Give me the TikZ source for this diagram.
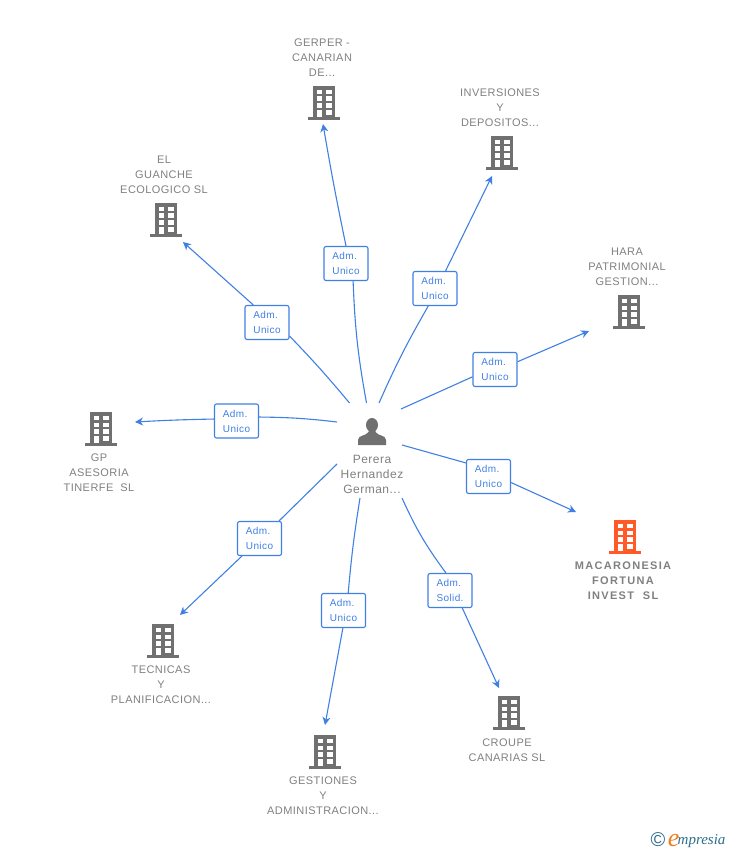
\documentclass[tikz,border=0pt]{standalone}
\usepackage{fontspec}
\setmainfont{Liberation Sans}[LetterSpace=4]
\newfontfamily\logofont{Liberation Serif}
\usetikzlibrary{positioning,arrows.meta}

\definecolor{linkblue}{RGB}{64,128,228}
\definecolor{icongray}{RGB}{112,112,112}
\definecolor{iconorange}{RGB}{255,90,40}
\definecolor{textgray}{RGB}{128,128,128}
\definecolor{logoteal}{RGB}{45,110,140}
\definecolor{logoorange}{RGB}{240,125,30}

\tikzset{
  link/.style={draw=linkblue, line width=1.1pt},
  linkto/.style={link, -{Stealth[length=8pt,width=8pt,inset=2.5pt]}},
  role/.style={draw=linkblue, fill=white, line width=1.1pt, rounded corners=2pt,
    minimum width=44pt, minimum height=34pt, inner sep=0pt, align=left,
    text=linkblue, font=\fontsize{10}{15}\selectfont},
  caption/.style={inner sep=0pt, align=center, text=textgray, xshift=-2pt,
    font=\fontsize{11}{15}\selectfont},
  building/.style={minimum width=32pt, minimum height=34pt, inner sep=0pt,
    path picture={
      \begin{scope}[shift={(path picture bounding box.center)}]
        \fill[#1] (-11,-17) rectangle (11,14);
        \fill[#1] (-16,14) rectangle (16,17);
        \foreach \col in {-7.5,2} \foreach \row in {-13.2,-6.5,0.2} {
          \fill[white] (\col,\row) rectangle ++(5.5,4.6);
        }
        \fill[white] (-7.5,7) rectangle (-2,14);
        \fill[white] (2,7) rectangle (7.5,11.6);
      \end{scope}
    }},
  person/.style={minimum width=30pt, minimum height=30pt, inner sep=0pt,
    path picture={
      \begin{scope}[shift={(path picture bounding box.center)}]
        \fill[icongray] (0,-7) ellipse (6 and 7);
        \fill[icongray] (-14,13) -- (-14,8) .. controls (-14,3) and (-6,4) .. (-3.5,0)
          -- (-3.5,-3) -- (3.5,-3) -- (3.5,0) .. controls (6,4) and (14,3) .. (14,8) -- (14,13) -- cycle;
      \end{scope}
    }},
}

\begin{document}
\begin{tikzpicture}[x=1pt, y=-1pt]
\useasboundingbox (0,0) rectangle (728,850);

% people and companies
\node [person] (perera) at (372,432) {};
\node [caption, below=8pt of perera, xshift=2pt, font=\fontsize{12}{15}\selectfont] (pereraname) {Perera\\Hernandez\\German...};

\node [building=icongray] (gerper) at (324,103) {};
\node [caption, above=9pt of gerper] (gerpername) {GERPER -\\CANARIAN\\DE...};
\node [building=icongray] (inversiones) at (502,153) {};
\node [caption, above=9pt of inversiones] (inversionesname) {INVERSIONES\\Y\\DEPOSITOS...};
\node [building=icongray] (guanche) at (166,220) {};
\node [caption, above=9pt of guanche] (guanchename) {EL\\GUANCHE\\ECOLOGICO SL};
\node [building=icongray] (hara) at (629,312) {};
\node [caption, above=9pt of hara] (haraname) {HARA\\PATRIMONIAL\\GESTION...};
\node [building=iconorange] (macaronesia) at (625,537) {};
\node [caption, below=7pt of macaronesia, font=\fontsize{11}{15}\selectfont\bfseries\addfontfeatures{LetterSpace=12}] (macaronesianame) {MACARONESIA\\FORTUNA\\INVEST\ \ SL};
\node [building=icongray] (gp) at (101,429) {};
\node [caption, below=7pt of gp] (gpname) {GP\\ASESORIA\\TINERFE\ \ SL};
\node [building=icongray] (tecnicas) at (163,641) {};
\node [caption, below=7pt of tecnicas] (tecnicasname) {TECNICAS\\Y\\PLANIFICACION...};
\node [building=icongray] (gestiones) at (325,752) {};
\node [caption, below=7pt of gestiones] (gestionesname) {GESTIONES\\Y\\ADMINISTRACION...};
\node [building=icongray] (croupe) at (509,713) {};
\node [caption, below=8pt of croupe] (croupename) {CROUPE\\CANARIAS SL};

% roles
\node [role] (rolegerper) at (346,263.5) {Adm.\\Unico};
\node [role] (roleinversiones) at (435,288.5) {Adm.\\Unico};
\node [role] (roleguanche) at (267,322.5) {Adm.\\Unico};
\node [role] (rolehara) at (495,369.5) {Adm.\\Unico};
\node [role] (rolemacaronesia) at (488.5,476.5) {Adm.\\Unico};
\node [role] (rolegp) at (236.5,421) {Adm.\\Unico};
\node [role] (roletecnicas) at (259.5,538.5) {Adm.\\Unico};
\node [role] (rolegestiones) at (343.5,610.5) {Adm.\\Unico};
\node [role] (rolecroupe) at (450,590.5) {Adm.\\Solid.};

% free ends of the links
\coordinate (fromgerper) at (366.5,403);
\coordinate (frominversiones) at (379,403);
\coordinate (fromguanche) at (349.5,403);
\coordinate (fromhara) at (401,409);
\coordinate (frommacaronesia) at (402,445);
\coordinate (fromgp) at (337,422);
\coordinate (fromtecnicas) at (337,464);
\coordinate (fromgestiones) at (360,498);
\coordinate (fromcroupe) at (402,498);
\coordinate (togerper) at (323,124);
\coordinate (toinversiones) at (492,176);
\coordinate (toguanche) at (183,242);
\coordinate (tohara) at (589,331);
\coordinate (tomacaronesia) at (576,512);
\coordinate (togp) at (135,422);
\coordinate (totecnicas) at (180,615);
\coordinate (togestiones) at (325,725);
\coordinate (tocroupe) at (499,688);

\draw[link] (fromgerper) to[bend left=4] (rolegerper.-68);
\draw[linkto] (rolegerper.north) to[bend left=1] (togerper);
\draw[link] (frominversiones) to[bend left=3] (roleinversiones.-111);
\draw[linkto] (roleinversiones.59) -- (toinversiones);
\draw[link] (fromguanche) to[bend right=2] (roleguanche.-31);
\draw[linkto] (roleguanche.128) -- (toguanche);
\draw[link] (fromhara) -- (rolehara.198);
\draw[linkto] (rolehara.19) -- (tohara);
\draw[link] (frommacaronesia) -- (rolemacaronesia.149);
\draw[linkto] (rolemacaronesia.-15) -- (tomacaronesia);
\draw[link] (fromgp) to[bend right=3] (rolegp.10);
\draw[linkto] (rolegp.175) to[bend right=1] (togp);
\draw[link] (fromtecnicas) -- (roletecnicas.42);
\draw[linkto] (roletecnicas.225) -- (totecnicas);
\draw[link] (fromgestiones) to[bend right=2] (rolegestiones.75);
\draw[linkto] (rolegestiones.268) -- (togestiones);
\draw[link] (fromcroupe) to[bend right=6] (rolecroupe.103);
\draw[linkto] (rolecroupe.-55) -- (tocroupe);

% logo
\node [inner sep=0pt, text=logoteal, font=\fontsize{20}{20}\selectfont] (copyright) at (658,840) {©};
\node [inner sep=0pt, right=2pt of copyright, text=logoorange, font=\fontsize{26}{26}\logofont\itshape] (logoe) {e};
\node [inner sep=0pt, right=-2pt of logoe, yshift=-1pt, text=logoteal, font=\fontsize{15}{15}\logofont\itshape] (logotext) {mpresia};
\end{tikzpicture}
\end{document}
